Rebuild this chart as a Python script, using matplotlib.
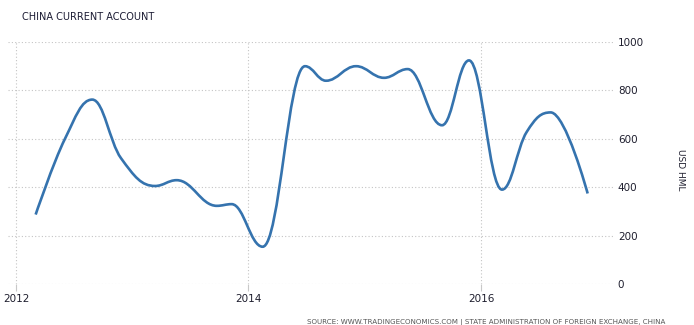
import matplotlib
matplotlib.use("Agg")
import matplotlib.pyplot as plt
from matplotlib.path import Path
from matplotlib.patches import PathPatch

# quarterly readings, x as fractional year, y in USD HML
dates = [2012.169, 2012.421, 2012.656, 2012.903, 2013.196, 2013.382,
         2013.727, 2013.855, 2014.122, 2014.486, 2014.667, 2014.925,
         2015.166, 2015.369, 2015.665, 2015.897, 2016.181, 2016.393,
         2016.600, 2016.918]
values = [287, 600, 762, 520, 405, 429, 323, 330, 154, 900, 840, 900,
          852, 888, 656, 924, 390, 628, 709, 374]
year_ticks = [2012, 2014, 2016]
value_ticks = [0, 200, 400, 600, 800, 1000]

title = "CHINA CURRENT ACCOUNT"
unit = "USD HML"
source = ("SOURCE: WWW.TRADINGECONOMICS.COM | STATE ADMINISTRATION OF "
          "FOREIGN EXCHANGE, CHINA")


def spline_path(xs, ys, smoothing=1.5):
    # bezier control points, same idea as a highcharts spline
    n = len(xs)
    left = [(xs[i], ys[i]) for i in range(n)]
    right = [(xs[i], ys[i]) for i in range(n)]
    denom = smoothing + 1
    for i in range(1, n - 1):
        px, py = xs[i], ys[i]
        lx, ly = xs[i - 1], ys[i - 1]
        nx, ny = xs[i + 1], ys[i + 1]
        lcx = (smoothing * px + lx) / denom
        lcy = (smoothing * py + ly) / denom
        rcx = (smoothing * px + nx) / denom
        rcy = (smoothing * py + ny) / denom
        if rcx != lcx:
            corr = (rcy - lcy) * (rcx - px) / (rcx - lcx) + py - rcy
            lcy += corr
            rcy += corr
        if lcy > ly and lcy > py:
            lcy = max(ly, py)
            rcy = 2 * py - lcy
        elif lcy < ly and lcy < py:
            lcy = min(ly, py)
            rcy = 2 * py - lcy
        if rcy > ny and rcy > py:
            rcy = max(ny, py)
            lcy = 2 * py - rcy
        elif rcy < ny and rcy < py:
            rcy = min(ny, py)
            lcy = 2 * py - rcy
        left[i] = (lcx, lcy)
        right[i] = (rcx, rcy)
    verts = [(xs[0], ys[0])]
    codes = [Path.MOVETO]
    for i in range(1, n):
        verts += [right[i - 1], left[i], (xs[i], ys[i])]
        codes += [Path.CURVE4] * 3
    return Path(verts, codes)


W, H = 694, 325
fig = plt.figure(figsize=(W / 100, H / 100), dpi=100)
ax = fig.add_axes([8 / W, 1 - 284 / H, (613 - 8) / W, (284 - 42) / H])

ax.add_patch(PathPatch(spline_path(dates, values), fill=False,
                       edgecolor="#3573ae", lw=1.9, capstyle="butt",
                       joinstyle="round", zorder=3))

ax.set_xlim(2011.931, 2017.136)
ax.set_ylim(0, 1000)
for s in ax.spines.values():
    s.set_visible(False)

ax.set_xticks(year_ticks)
ax.set_xticklabels([str(y) for y in year_ticks])
ax.set_yticks(value_ticks)
ax.yaxis.tick_right()
ax.tick_params(axis="y", length=0, pad=3.5, labelsize=7.5,
               labelcolor="#1e1e2e")
ax.tick_params(axis="x", length=5, color="#c8c8c8", width=0.8, pad=2.5,
               labelsize=7.5, labelcolor="#1e1e2e")
ax.grid(True, color="#c4c4c4", linestyle=(0, (1, 2)), linewidth=0.8)
ax.set_axisbelow(True)

fig.text(680 / W, 1 - 170 / H, unit, rotation=270, fontsize=6.5,
         color="#1e1e2e", ha="center", va="center")
fig.text(22 / W, 1 - 17 / H, title, fontsize=7, color="#1b1b33",
         ha="left", va="center")
fig.text(665 / W, 1 - 319 / H, source, fontsize=5.1, color="#555555",
         ha="right", va="top")

fig.savefig("out.png", dpi=100)
